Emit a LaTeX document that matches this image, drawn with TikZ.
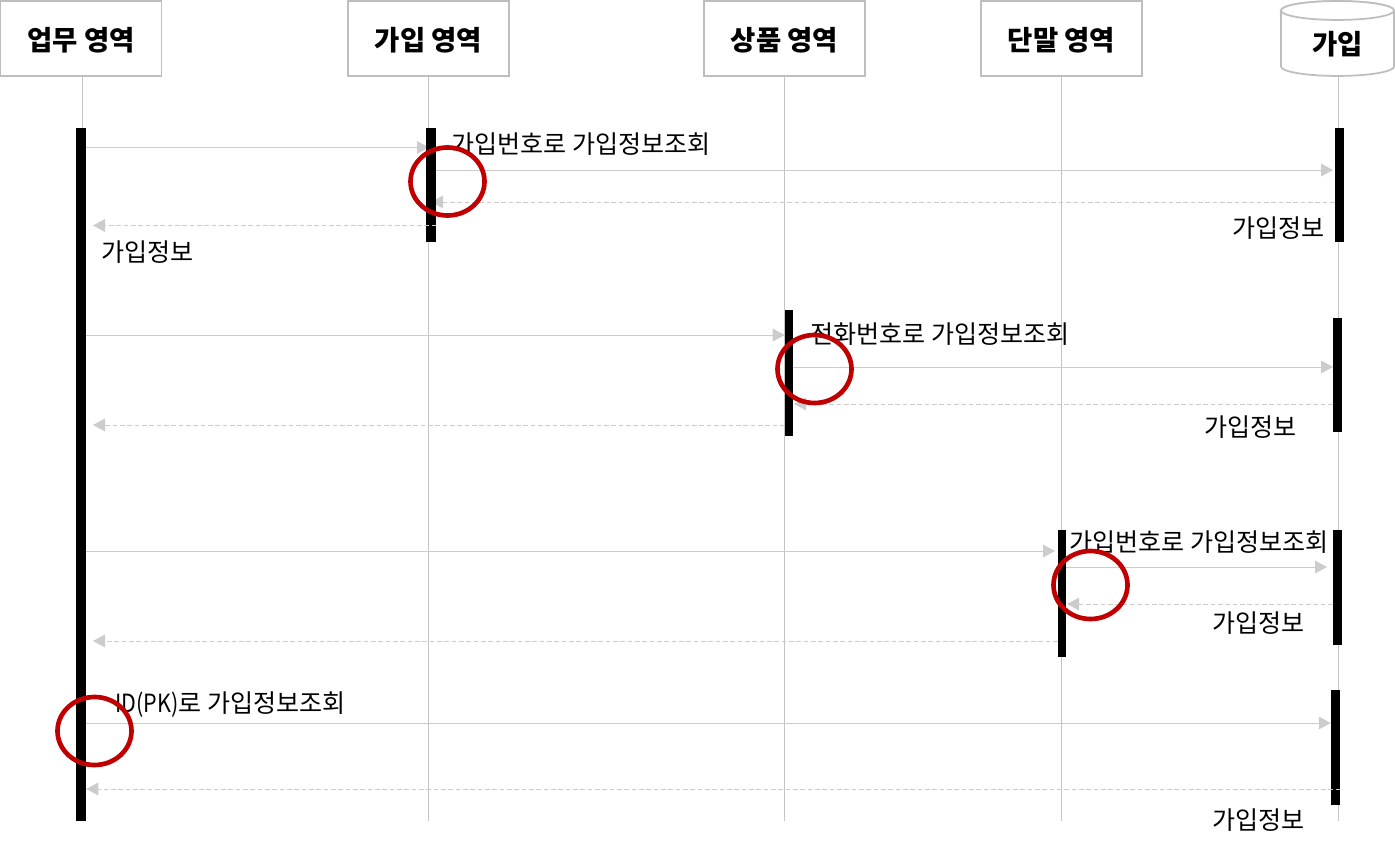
\documentclass[tikz,border=0pt]{standalone}
\usepackage{fontspec}
\usepackage{graphicx}
\setmainfont{Noto Sans CJK KR}
\usetikzlibrary{arrows.meta,shapes.geometric,backgrounds}
\definecolor{linegray}{HTML}{CCCCCC}
\definecolor{lifegray}{HTML}{C4C4C4}
\definecolor{headgray}{HTML}{BEBEBE}
\definecolor{ringred}{HTML}{C00000}
\tikzset{
  x=0.75pt,y=-0.75pt,
  headfont/.style={font=\fontsize{20.6pt}{22pt}\bfseries\selectfont},
  header/.style={draw=headgray,line width=1.4pt,fill=white,minimum width=120.8pt,minimum height=56.4pt,inner sep=0pt},
  headtext/.style={headfont,inner sep=0pt,yshift=-1pt},
  cyl/.style={draw=headgray,line width=1.3pt,fill=white},
  life/.style={draw=lifegray,line width=0.75pt},
  bar/.style={fill=black,draw=none,inner sep=0pt,minimum width=#1*0.75pt,anchor=north},
  msg/.style={draw=linegray,line width=0.75pt,-{Triangle[length=9pt,width=9.5pt,color=linegray]}},
  ret/.style={msg,dash pattern=on 3.5pt off 2pt},
  ring/.style={draw=ringred,line width=3.5pt,ellipse,minimum width=55.5pt,minimum height=51pt,inner sep=0pt},
  lab/.style={font=\fontsize{18.8pt}{22pt}\selectfont,inner sep=0pt,text=black},
}
\newcommand{\barat}[5]{\node[bar=#3,minimum height=(#5-#4)*0.75pt] (#1) at (#2,#4) {};}
\begin{document}
\begin{tikzpicture}
\useasboundingbox (0,0) rectangle (1395,849);
% headers
\node[header,label={[headtext]center:업무 영역}] (h0) at (81,38.5) {};
\node[header,label={[headtext]center:가입 영역}] (h1) at (428.5,38.5) {};
\node[header,label={[headtext]center:상품 영역}] (h2) at (784.5,38.5) {};
\node[header,label={[headtext]center:단말 영역}] (h3) at (1061.5,38.5) {};
\draw[cyl] (1281,10.5) -- (1281,66.5) arc[start angle=180,end angle=360,x radius=42.4pt,y radius=7.1pt] -- (1394,10.5) arc[start angle=0,end angle=180,x radius=42.4pt,y radius=7.1pt] -- cycle;
\draw[cyl] (1337.5,10.5) ellipse [x radius=42.4pt,y radius=7.1pt];
\node[inner sep=0pt,minimum width=84.5pt,minimum height=56.2pt,label={[headfont,inner sep=0pt,yshift=-4.5pt]center:가입}] (h4) at (1337.5,38.5) {};
% lifeline ends
\coordinate (e0) at (82,821);
\coordinate (e1) at (428,821);
\coordinate (e2) at (784,821);
\coordinate (e3) at (1061.5,821);
\coordinate (e4) at (1338,821);
\draw[life] (h0.south -| e0) -- (e0);
\draw[life] (h1.south -| e1) -- (e1);
\draw[life] (h2.south -| e2) -- (e2);
\draw[life] (h3.south -| e3) -- (e3);
\draw[life] (h4.south -| e4) -- (e4);
% activation bars
\barat{a0}{81}{10}{128}{821}
\barat{a1}{431}{10}{128}{242}
\barat{b1}{1339.5}{9}{128}{242}
\barat{a2}{789}{8}{310}{436}
\barat{b2}{1337.5}{9}{318}{432}
\barat{a3}{1062}{8}{530}{657}
\barat{b3}{1337.5}{9}{530}{645}
\barat{b4}{1335.5}{9}{690}{805}
% messages 1
\begin{pgfonlayer}{background}
\draw[msg] (a0.east |- 0,147.5) -- (429,147.5);
\draw[ret] (b1.west |- 0,202) -- (431,202);
\end{pgfonlayer}
\draw[msg] (a1.east |- 0,170) -- (1333,170);
\draw[ret] (a1.east |- 0,225.5) -- (93,225.5);
% messages 2
\draw[msg] (a0.east |- 0,335) -- (a2.west |- 0,335);
\draw[msg] (a2.east |- 0,367) -- (1333,367);
\draw[ret] (b2.west |- 0,404) -- (794,404);
\draw[ret] (a2.west |- 0,425) -- (93,425);
% messages 3
\draw[msg] (a0.east |- 0,551) -- (1055,551);
\draw[msg] (a3.east |- 0,567) -- (1327,567);
\draw[ret] (b3.west |- 0,604) -- (1067,604);
\draw[ret] (a3.west |- 0,641) -- (93,641);
% messages 4
\draw[msg] (a0.east |- 0,723) -- (b4.west |- 0,723);
\draw[ret] (b4.east |- 0,789) -- (a0.east |- 0,789);
% labels
\node[lab,anchor=west] (t1) at (451,144) {가입번호로 가입정보조회};
\node[lab,anchor=west] (t2) at (1232,228) {가입정보};
\node[lab,anchor=west] (t3) at (101,252) {가입정보};
\node[lab,anchor=west] (t4) at (810,334) {전화번호로 가입정보조회};
\node[lab,anchor=west] (t5) at (1204,427) {가입정보};
\node[lab,anchor=west] (t6) at (1069,542) {가입번호로 가입정보조회};
\node[lab,anchor=west] (t7) at (1212,623) {가입정보};
\node[lab,anchor=west] (t8) at (115,705) {\scalebox{0.86}[1]{ID(PK)}로 가입정보조회};
\node[lab,anchor=west] (t9) at (1212,820) {가입정보};
% rings
\node[ring] (r1) at (447.5,181.5) {};
\node[ring] (r2) at (814.5,369) {};
\node[ring] (r3) at (1090.5,585) {};
\node[ring] (r4) at (94.5,731) {};
\end{tikzpicture}
\end{document}
